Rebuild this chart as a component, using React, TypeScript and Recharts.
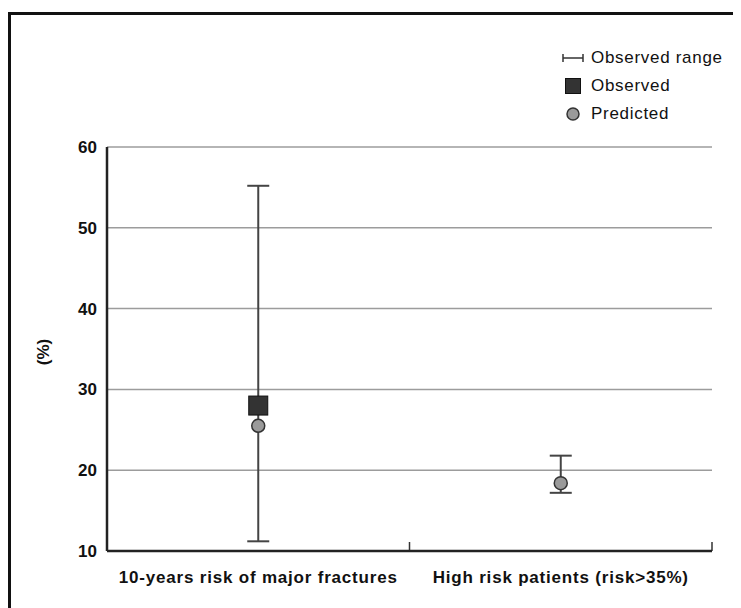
import React from 'react';
import { ComposedChart, Scatter, ErrorBar, XAxis, YAxis, CartesianGrid, Legend, Label } from 'recharts';

const categories = ['10-years risk of major fractures', 'High risk patients (risk>35%)'];
const observed = [28.0, null];
const predicted = [25.5, 18.4];
const rangeLow = [11.2, 17.2];
const rangeHigh = [55.2, 21.8];
const yTicks = [10, 20, 30, 40, 50, 60];
// category boundaries as fractions of the x axis
const edgeTicks = [0.5, 1];
const legendLabels = ['Observed range', 'Observed', 'Predicted'];

const data = categories.map((name, i) => ({
  name,
  observed: observed[i],
  predicted: predicted[i],
  low: rangeLow[i],
  high: rangeHigh[i],
}));

const FONT = '"Liberation Sans", Arial, Helvetica, sans-serif';

// square marker for observed values (skip categories without one)
const SquareShape = (props: any) => {
  const { cx, cy, payload } = props;
  if (payload == null || payload.observed == null || cx == null || cy == null) return <g />;
  return <rect x={cx - 9.5} y={cy - 9.5} width={19} height={19} fill="#333" stroke="#111" strokeWidth={1} />;
};

const CircleShape = (props: any) => {
  const { cx, cy } = props;
  if (cx == null || cy == null) return <g />;
  return <circle cx={cx} cy={cy} r={6.5} fill="#9a9a9a" stroke="#333" strokeWidth={1.5} />;
};

const PercentLabel = ({ viewBox }: any) => {
  const x = viewBox.x + 32;
  const y = viewBox.y + viewBox.height / 2 + 3;
  return (
    <text
      x={x}
      y={y}
      transform={`rotate(-90 ${x} ${y})`}
      textAnchor="middle"
      dominantBaseline="central"
      fontSize={17}
      fontWeight="bold"
      fill="#111"
      fontFamily={FONT}
    >
      (%)
    </text>
  );
};

const LegendIcon = ({ index }: { index: number }) => (
  <svg width={22} height={20} style={{ marginRight: 7, flex: 'none' }}>
    {index === 0 && (
      <g stroke="#333" strokeWidth={1.5}>
        <line x1={1} y1={10} x2={21} y2={10} />
        <line x1={1} y1={6} x2={1} y2={14} />
        <line x1={21} y1={6} x2={21} y2={14} />
      </g>
    )}
    {index === 1 && <rect x={3.5} y={2.5} width={15} height={15} fill="#333" stroke="#111" strokeWidth={1} />}
    {index === 2 && <circle cx={11} cy={10} r={6} fill="#9a9a9a" stroke="#333" strokeWidth={1.5} />}
  </svg>
);

const renderLegend = () => (
  <div style={{ fontFamily: FONT, fontSize: 17, letterSpacing: 0.7, color: '#111', width: 175 }}>
    {legendLabels.map((label, i) => (
      <div key={label} style={{ display: 'flex', alignItems: 'center', height: 28, whiteSpace: 'nowrap' }}>
        <LegendIcon index={i} />
        <span>{label}</span>
      </div>
    ))}
  </div>
);

export default function App() {
  return (
    <div style={{ paddingTop: 4 }}>
      <style>{`body { overflow: hidden; }`}</style>
      <div
        style={{
          borderLeft: '3px solid #111',
          borderTop: '3px solid #111',
          width: 730,
          height: 600,
          background: '#fff',
        }}
      >
        <ComposedChart
          width={730}
          height={593}
          data={data}
          margin={{ top: 132, right: 29, bottom: 17, left: 0 }}
          style={{ fontFamily: FONT }}
        >
          <CartesianGrid vertical={false} stroke="#9c9c9c" strokeWidth={1.5} />
          {/* boundary ticks between categories, pointing up into the plot */}
          <XAxis
            xAxisId="edge"
            type="number"
            domain={[0, 1]}
            allowDataOverflow
            ticks={edgeTicks}
            interval={0}
            tickFormatter={() => ''}
            axisLine={false}
            tickLine={{ stroke: '#333', strokeWidth: 1.5 }}
            tickSize={9}
            mirror
            height={10}
          />
          <XAxis
            dataKey="name"
            type="category"
            scale="band"
            height={40}
            axisLine={{ stroke: '#222', strokeWidth: 2.5 }}
            tickLine={false}
            tickSize={0}
            tickMargin={20}
            interval={0}
            tick={{ fontSize: 17, fontWeight: 'bold', fill: '#111', letterSpacing: 0.8 }}
          />
          <YAxis
            type="number"
            domain={[10, 60]}
            ticks={yTicks}
            width={96}
            axisLine={{ stroke: '#222', strokeWidth: 2.5 }}
            tickLine={false}
            tickSize={0}
            tickMargin={10}
            tick={{ fontSize: 17, fontWeight: 'bold', fill: '#111' }}
          >
            <Label content={PercentLabel} />
          </YAxis>
          <Scatter dataKey="predicted" shape={CircleShape} isAnimationActive={false}>
            <ErrorBar
              dataKey={(d: any) => [d.predicted - d.low, d.high - d.predicted]}
              direction="y"
              width={11}
              stroke="#444"
              strokeWidth={2}
              isAnimationActive={false}
            />
          </Scatter>
          <Scatter dataKey="observed" shape={SquareShape} isAnimationActive={false} />
          <Legend
            layout="horizontal"
            align="center"
            verticalAlign="middle"
            content={renderLegend}
            wrapperStyle={{ top: 29, left: 551, width: 175 }}
          />
        </ComposedChart>
      </div>
    </div>
  );
}
